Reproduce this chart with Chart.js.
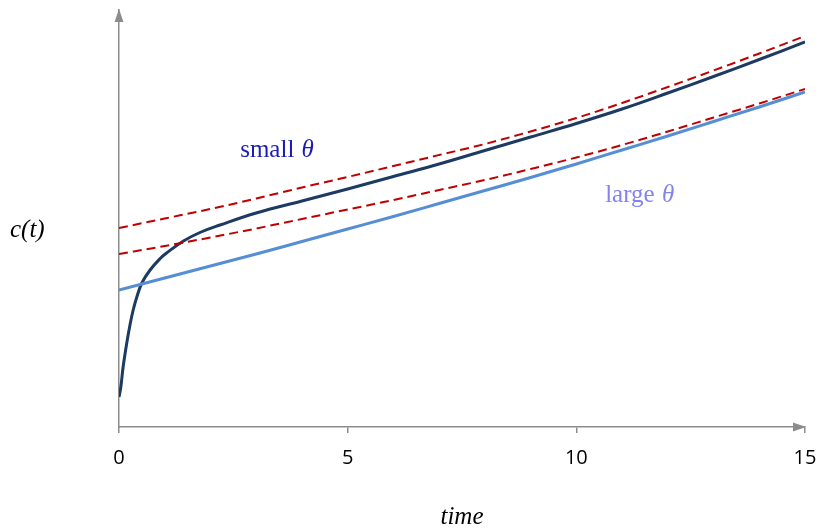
<!DOCTYPE html>
<html>
<head>
<meta charset="utf-8">
<script src="https://cdn.jsdelivr.net/npm/chart.js@4.4.1/dist/chart.umd.min.js"></script>
<style>
  html, body { margin: 0; padding: 0; background: #fff; }
</style>
</head>
<body>
<canvas id="myChart" width="819" height="530"></canvas>
<script>
// time points for the fast-rising small-theta curve (dense near t = 0)
let tSmall = [0, 0.04, 0.09, 0.17, 0.24, 0.31, 0.39, 0.5, 0.68, 0.9, 1.04, 1.41, 1.77, 2.21, 3, 4, 5, 6, 7, 8, 9, 10, 11, 12, 13, 14, 15];
let cSmall = [30, 40, 60, 84, 102, 117, 130, 144, 157, 168.5, 174, 186, 194.5, 202, 214, 226, 238, 250.5, 263, 276.5, 290, 303.5, 318, 334, 350.5, 367.5, 385];

// time points for the other curves
let tGrid = [0, 1, 2, 3, 4, 5, 6, 7, 8, 9, 10, 11, 12, 13, 14, 15];
let cLarge = [137, 149, 161, 173, 185.5, 198, 210.5, 223.5, 236.5, 249.5, 263, 277, 291, 305.5, 320, 335];
let asymSmall = [199, 208.5, 218, 228.5, 239.5, 250, 261, 272, 283, 295.5, 309, 324, 340, 356.5, 373.5, 391];
let asymLarge = [173, 181, 189.5, 198.5, 208, 217.5, 227, 237, 247, 258, 269.5, 282, 295.5, 309.5, 323.5, 338];

let xTicks = [0, 5, 10, 15];

let axisColor = '#8c8c8c';
let serif = '"Liberation Serif", serif';

function points(ts, cs) {
    return ts.map((t, i) => ({ x: t, y: cs[i] }));
}

// arrow heads and the hand-placed math labels
const decorations = {
    id: 'decorations',
    afterDraw(chart) {
        const { ctx, chartArea, scales: { x, y } } = chart;
        ctx.save();
        ctx.fillStyle = axisColor;
        ctx.beginPath();
        ctx.moveTo(chartArea.right + 1, chartArea.bottom);
        ctx.lineTo(chartArea.right - 12, chartArea.bottom - 4.5);
        ctx.lineTo(chartArea.right - 12, chartArea.bottom + 4.5);
        ctx.closePath();
        ctx.fill();
        ctx.beginPath();
        ctx.moveTo(chartArea.left, chartArea.top - 1);
        ctx.lineTo(chartArea.left - 4.5, chartArea.top + 12);
        ctx.lineTo(chartArea.left + 4.5, chartArea.top + 12);
        ctx.closePath();
        ctx.fill();

        ctx.textBaseline = 'alphabetic';
        ctx.textAlign = 'left';

        function label(px, py, word, color) {
            ctx.fillStyle = color;
            ctx.font = '25px ' + serif;
            ctx.fillText(word, px, py);
            let w = ctx.measureText(word).width;
            ctx.font = 'italic 25px ' + serif;
            ctx.fillText('\u03b8', px + w + 1, py);
        }
        label(x.getPixelForValue(2.65), y.getPixelForValue(270), 'small ', '#1c1cb4');
        label(x.getPixelForValue(10.63), y.getPixelForValue(225), 'large ', '#8383f0');

        ctx.fillStyle = '#000';
        ctx.font = 'italic 25px ' + serif;
        ctx.fillText('c(t)', 10, y.getPixelForValue(190));
        ctx.restore();
    }
};

let ctx = document.getElementById('myChart').getContext('2d');

let chart = new Chart(ctx, {
    type: 'line',
    data: {
        datasets: [
            {
                data: points(tGrid, asymSmall),
                borderColor: '#c00000',
                borderWidth: 2,
                borderDash: [9, 5]
            },
            {
                data: points(tGrid, asymLarge),
                borderColor: '#c00000',
                borderWidth: 2,
                borderDash: [9, 5]
            },
            {
                data: points(tGrid, cLarge),
                borderColor: '#558ed5',
                borderWidth: 3
            },
            {
                data: points(tSmall, cSmall),
                borderColor: '#1d3a62',
                borderWidth: 3,
                cubicInterpolationMode: 'default',
                tension: 0.4
            }
        ]
    },
    options: {
        responsive: false,
        animation: false,
        layout: { padding: { top: 10, right: 14, left: 0, bottom: 0 } },
        elements: {
            point: { radius: 0 },
            line: { cubicInterpolationMode: 'monotone', fill: false }
        },
        plugins: {
            legend: { display: false },
            tooltip: { enabled: false }
        },
        scales: {
            x: {
                type: 'linear',
                min: 0,
                max: 15,
                afterBuildTicks: s => { s.ticks = xTicks.map(v => ({ value: v })); },
                ticks: {
                    padding: 13,
                    color: '#000',
                    font: { family: '"Open Sans", sans-serif', size: 20 }
                },
                grid: { drawOnChartArea: false, drawTicks: true, tickLength: 6, color: axisColor, lineWidth: 1.5 },
                border: { color: axisColor, width: 1.5 },
                title: {
                    display: true,
                    text: 'time',
                    color: '#000',
                    font: { family: serif, style: 'italic', size: 25, lineHeight: 1 },
                    padding: { top: 0, bottom: 0 }
                },
                afterFit: s => {
                    s.height = 103;
                    s.paddingLeft = 0;
                    s.paddingRight = 0;
                }
            },
            y: {
                min: 0,
                max: 417,
                ticks: { display: false },
                grid: { display: false },
                border: { color: axisColor, width: 1.5 },
                afterFit: s => { s.width = 119; }
            }
        }
    },
    plugins: [decorations]
});
</script>
</body>
</html>
